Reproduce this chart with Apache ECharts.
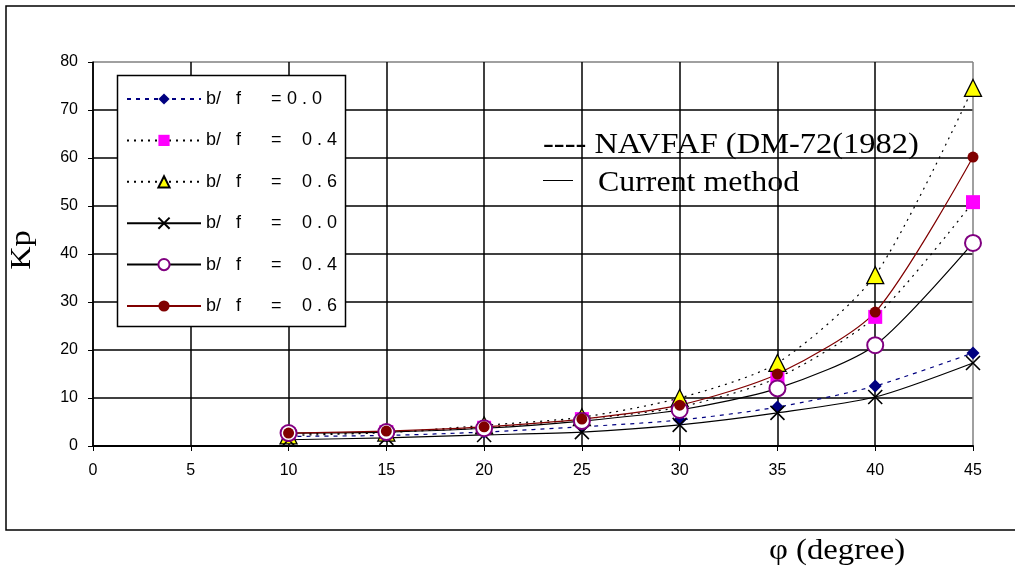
<!DOCTYPE html>
<html>
<head>
<meta charset="utf-8">
<script src="https://cdn.jsdelivr.net/npm/echarts@6/dist/echarts.min.js"></script>
<style>
  html, body { margin: 0; padding: 0; background: #fff; }
  #chart { width: 1015px; height: 574px; }
</style>
</head>
<body>
<div id="chart"></div>
<script>
// phi values (degree)
var phi = [10, 15, 20, 25, 30, 35, 40, 45];

// NAVFAC DM-7.2 (1982), dotted lines
var navB00 = [2.0, 2.2, 2.9, 4.0, 5.4, 8.1, 12.5, 19.4];
var navB04 = [2.5, 2.9, 3.8, 5.6, 8.1, 14.2, 26.9, 50.8];
var navB06 = [2.2, 2.8, 4.3, 6.0, 10.0, 17.3, 35.6, 74.6];

// current method, solid lines
var curB00 = [1.3, 1.7, 2.3, 2.9, 4.4, 6.9, 10.2, 17.3];
var curB04 = [2.7, 2.9, 3.7, 5.2, 7.5, 12.0, 21.0, 42.3];
var curB06 = [2.7, 3.1, 4.0, 5.6, 8.5, 15.0, 27.9, 60.2];

// b/f ratio shown in the legend
var ratios = ['0.0', '0.4', '0.6', '0.0', '0.4', '0.6'];
var names = [
  'b / f    = 0.0',
  'b / f    =   0.4',
  'b / f    =   0.6',
  'b / f    =   0.0 ',
  'b / f    =   0.4 ',
  'b / f    =   0.6 '
];

function pts(ys) {
  return phi.map(function (x, i) { return [x, ys[i]]; });
}

var myChart = echarts.init(document.getElementById('chart'));

var grey = '#808080';
var ySplitColors = ['#000', '#000', '#000', '#000', '#000', '#000', '#000', '#000', grey];
var xSplitColors = ['#000', '#000', '#000', '#000', '#000', '#000', '#000', '#000', '#000', grey];

function line(name, data, color, type, symbol, size, item) {
  return {
    name: name,
    type: 'line',
    data: pts(data),
    smooth: 0.25,
    symbol: symbol,
    symbolSize: size,
    lineStyle: { color: color, width: 1.2, type: type },
    itemStyle: item,
    z: 3
  };
}

var serif = '"Liberation Serif", "Times New Roman", serif';

option = {
  animation: false,
  backgroundColor: '#fff',
  textStyle: { fontFamily: 'Liberation Sans' },
  grid: { left: 93, top: 62, right: 42, bottom: 128 },
  xAxis: {
    type: 'value', min: 0, max: 45, interval: 5,
    axisLine: { onZero: false, lineStyle: { color: '#000', width: 2 } },
    axisTick: { show: true, length: 5, lineStyle: { color: '#000' } },
    axisLabel: { color: '#000', fontSize: 16, margin: 17 },
    splitLine: { show: true, lineStyle: { color: xSplitColors, width: 1.5 } }
  },
  yAxis: {
    type: 'value', min: 0, max: 80, interval: 10,
    axisLine: { show: true, lineStyle: { color: '#000', width: 1.5 } },
    axisTick: { show: true, length: 5, lineStyle: { color: '#000' } },
    axisLabel: { color: '#000', fontSize: 16, margin: 15 },
    splitLine: { show: true, lineStyle: { color: ySplitColors, width: 1.5 } }
  },
  legend: {
    orient: 'vertical',
    left: 117, top: 75,
    padding: [15, 8, 10, 9],
    itemWidth: 74, itemHeight: 14, itemGap: 23.4,
    data: names,
    formatter: function (name) {
      var i = names.indexOf(name);
      var v = ratios[i].split('').join(' ');
      return '{a|b/   f}{b|=}' + (i === 0 ? '{c|' : '{d|') + v + '}';
    },
    textStyle: {
      color: '#000', fontSize: 18, lineHeight: 17,
      rich: {
        a: { fontSize: 18, lineHeight: 17, width: 65 },
        b: { fontSize: 18, lineHeight: 17, width: 16 },
        c: { fontSize: 18, lineHeight: 17, width: 50, padding: [0, 0, 0, 0] },
        d: { fontSize: 18, lineHeight: 17, width: 50, padding: [0, 0, 0, 15] }
      }
    }
  },
  series: [
    line(names[0], navB00, '#000080', [4, 5], 'diamond', 13,
      { color: '#000080' }),
    line(names[1], navB04, '#000', [2, 5], 'rect', 14,
      { color: '#ff00ff' }),
    line(names[2], navB06, '#000', [2, 5], 'triangle', 17,
      { color: '#ffff00', borderColor: '#000', borderWidth: 1.3 }),
    line(names[3], curB00, '#000', 'solid', 'path://M0,0L10,10M10,0L0,10', 14,
      { color: 'none', borderColor: '#000', borderWidth: 1.6 }),
    line(names[4], curB04, '#000', 'solid', 'emptyCircle', 16,
      { color: '#800080', borderColor: '#800080', borderWidth: 1.6 }),
    line(names[5], curB06, '#800000', 'solid', 'circle', 11,
      { color: '#800000' })
  ],
  graphic: [
    { type: 'rect', shape: { x: 6, y: 6, width: 1030, height: 524 },
      style: { fill: 'none', stroke: '#000', lineWidth: 1.5 }, z: -1, silent: true },
    { type: 'rect', shape: { x: 117.5, y: 75.5, width: 228, height: 251 },
      style: { fill: '#fff', stroke: '#000', lineWidth: 1.5 }, z: 4, silent: true },
    { type: 'text', x: 22, y: 250, rotation: Math.PI / 2, scaleX: 1.12,
      style: { text: 'Kp', font: '29px ' + serif, fill: '#000',
               textAlign: 'center', textVerticalAlign: 'middle' } },
    { type: 'text', x: 837, y: 551, scaleX: 1.13,
      style: { text: 'φ (degree)', font: '29px ' + serif, fill: '#000',
               textAlign: 'center', textVerticalAlign: 'middle' } },
    { type: 'text', x: 543, y: 145, z: 10, scaleX: 1.12,
      style: { text: '---- NAVFAF (DM-72(1982)', font: '29px ' + serif, fill: '#000',
               textVerticalAlign: 'middle' } },
    { type: 'line', z: 10, shape: { x1: 543, y1: 180.5, x2: 573, y2: 180.5 },
      style: { stroke: '#000', lineWidth: 1 } },
    { type: 'text', x: 598, y: 183, z: 10, scaleX: 1.1,
      style: { text: 'Current method', font: '29px ' + serif, fill: '#000',
               textVerticalAlign: 'middle' } }
  ]
};

myChart.setOption(option);
</script>
</body>
</html>
